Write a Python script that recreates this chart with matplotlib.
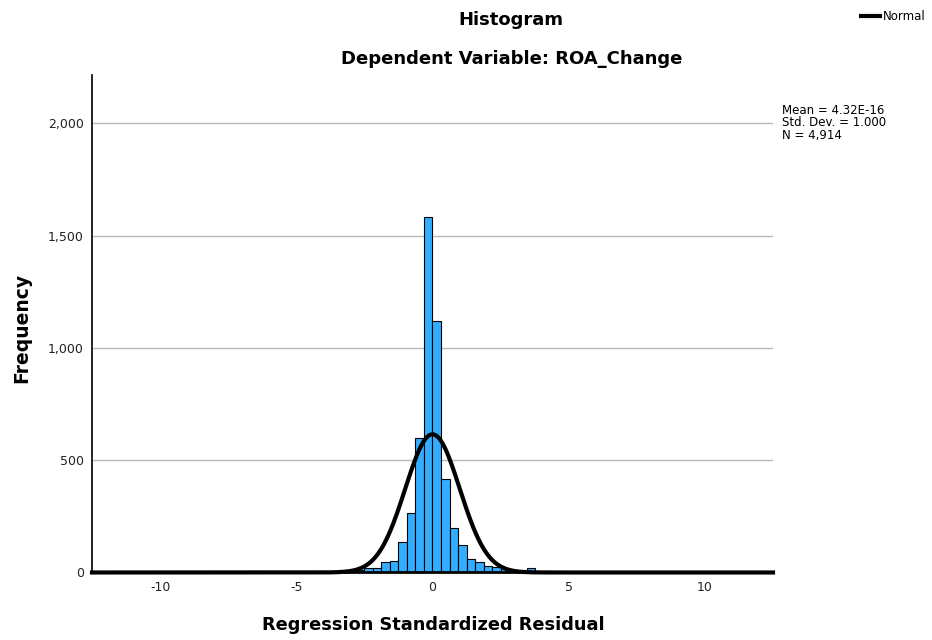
import numpy as np
import matplotlib.pyplot as plt
from matplotlib.ticker import FuncFormatter
from matplotlib.lines import Line2D

plt.rcParams['axes.unicode_minus'] = False

# histogram of regression standardized residuals
bin_width = 0.314
first_edge = -11 * bin_width
counts = [12, 3, 10, 20, 20, 46, 52, 134, 263, 598, 1583,
          1122, 415, 200, 123, 60, 47, 27, 26, 18, 3, 2, 21, 1, 5]

mean = 4.32e-16
std = 1.0
n_obs = 4914

x_ticks = [-10, -5, 0, 5, 10]
y_ticks = [0, 500, 1000, 1500, 2000]

edges = first_edge + bin_width * np.arange(len(counts))

fig = plt.figure(figsize=(9.32, 6.4), dpi=100)
ax = fig.add_axes([0.0987, 0.1055, 0.7307, 0.7773])

ax.bar(edges, counts, width=bin_width, align='edge', color='#33adff',
       edgecolor='black', linewidth=0.8, zorder=2)

# fitted normal curve
xs = np.linspace(-12.5, 12.5, 1000)
ys = n_obs * bin_width * np.exp(-0.5 * ((xs - mean) / std) ** 2) / (std * np.sqrt(2 * np.pi))
ax.plot(xs, ys, color='black', lw=3, zorder=3, clip_on=False)

ax.set_xlim(-12.5, 12.5)
ax.set_ylim(0, 2216)
ax.set_xticks(x_ticks)
ax.set_yticks(y_ticks)
ax.yaxis.set_major_formatter(FuncFormatter(lambda v, p: f'{int(v):,}'))
ax.tick_params(length=0, labelsize=9, pad=6, labelcolor='#222222')
ax.yaxis.grid(True, color='#bbbbbb', lw=1)
ax.set_axisbelow(True)
for s in ['top', 'right']:
    ax.spines[s].set_visible(False)
ax.spines['left'].set_linewidth(1.2)
ax.spines['bottom'].set_linewidth(2)

fig.text(511/932, 1-20/640, 'Histogram', ha='center', va='center',
         fontsize=13, fontweight='bold')
fig.text(512/932, 1-59/640, 'Dependent Variable: ROA_Change', ha='center', va='center',
         fontsize=13, fontweight='bold')
fig.text(22/932, 1-328/640, 'Frequency', ha='center', va='center', rotation=90,
         fontsize=13.5, fontweight='bold')
fig.text(433/932, 1-625/640, 'Regression Standardized Residual', ha='center', va='center',
         fontsize=12.8, fontweight='bold')

fig.text(782/932, 1-123/640,
         'Mean = 4.32E-16\nStd. Dev. = 1.000\nN = 4,914',
         ha='left', va='center', fontsize=8.5, linespacing=1.0)

fig.legend(handles=[Line2D([], [], color='black', lw=3)], labels=['Normal'],
           loc='center left', bbox_to_anchor=(850/932, 1-17/640), frameon=False,
           handlelength=1.6, handletextpad=0.3, fontsize=8.5)

fig.savefig('out.png')
